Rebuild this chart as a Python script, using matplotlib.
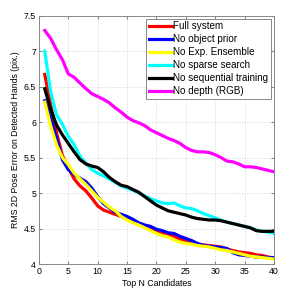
import numpy as np
import matplotlib
matplotlib.use("Agg")
import matplotlib.pyplot as plt

plt.rcParams['font.family'] = ['Liberation Sans', 'DejaVu Sans']

# Top N candidates 1..40
top_n = np.arange(1, 41)

full_system = [6.67, 6.25, 5.85, 5.53, 5.36, 5.20, 5.10, 5.03, 4.93, 4.82,
               4.76, 4.73, 4.70, 4.67, 4.64, 4.61, 4.57, 4.53, 4.49, 4.45,
               4.44, 4.42, 4.39, 4.35, 4.32, 4.30, 4.28, 4.27, 4.26, 4.25,
               4.24, 4.21, 4.19, 4.17, 4.16, 4.15, 4.13, 4.12, 4.10, 4.08]
no_object_prior = [6.30, 6.05, 5.78, 5.47, 5.33, 5.26, 5.21, 5.16, 5.07, 4.95,
                   4.85, 4.79, 4.73, 4.70, 4.67, 4.63, 4.58, 4.55, 4.53, 4.49,
                   4.47, 4.44, 4.43, 4.39, 4.36, 4.33, 4.29, 4.26, 4.25, 4.24,
                   4.23, 4.22, 4.16, 4.13, 4.12, 4.11, 4.10, 4.10, 4.09, 4.09]
no_exp_ensemble = [6.28, 5.95, 5.68, 5.50, 5.40, 5.28, 5.20, 5.12, 5.03, 4.94,
                   4.87, 4.80, 4.75, 4.67, 4.62, 4.58, 4.55, 4.51, 4.47, 4.43,
                   4.40, 4.38, 4.34, 4.31, 4.29, 4.28, 4.26, 4.25, 4.24, 4.22,
                   4.20, 4.19, 4.17, 4.15, 4.13, 4.11, 4.10, 4.09, 4.08, 4.07]
no_sparse_search = [7.00, 6.43, 6.10, 5.97, 5.80, 5.68, 5.52, 5.42, 5.33, 5.28,
                    5.24, 5.20, 5.15, 5.10, 5.07, 5.04, 5.00, 4.96, 4.92, 4.89,
                    4.86, 4.85, 4.86, 4.82, 4.79, 4.78, 4.75, 4.71, 4.68, 4.65,
                    4.62, 4.59, 4.57, 4.55, 4.53, 4.51, 4.48, 4.46, 4.45, 4.43]
no_seq_training = [6.47, 6.18, 5.96, 5.82, 5.70, 5.58, 5.47, 5.41, 5.38, 5.36,
                   5.30, 5.22, 5.16, 5.11, 5.09, 5.05, 5.01, 4.95, 4.89, 4.83,
                   4.79, 4.75, 4.73, 4.71, 4.69, 4.66, 4.64, 4.63, 4.62, 4.62,
                   4.61, 4.59, 4.57, 4.55, 4.53, 4.51, 4.47, 4.46, 4.46, 4.46]
no_depth = [7.29, 7.18, 7.02, 6.88, 6.68, 6.63, 6.55, 6.47, 6.40, 6.36,
            6.32, 6.27, 6.20, 6.14, 6.07, 6.02, 5.99, 5.95, 5.89, 5.85,
            5.81, 5.77, 5.74, 5.70, 5.64, 5.60, 5.58, 5.58, 5.57, 5.54,
            5.50, 5.45, 5.44, 5.41, 5.37, 5.37, 5.36, 5.34, 5.32, 5.30]

labels = ["Full system", "No object prior", "No Exp. Ensemble",
          "No sparse search", "No sequential training", "No depth (RGB)"]
colors = ["#ff0000", "#0000ff", "#ffff00", "#00ffff", "#000000", "#ff00ff"]
series = [full_system, no_object_prior, no_exp_ensemble,
          no_sparse_search, no_seq_training, no_depth]

fig = plt.figure(figsize=(2.99, 2.94), dpi=100)
ax = fig.add_axes([0.130, 0.102, 0.786, 0.845])

for vals, lab, col in zip(series, labels, colors):
    ax.plot(top_n, vals, color=col, linewidth=2.3, label=lab)

ax.set_xlim(0, 40)
ax.set_ylim(4, 7.5)
ax.set_xticks(np.arange(0, 41, 5))
ax.set_yticks(np.arange(4, 7.51, 0.5))
ax.set_yticklabels(["4", "4.5", "5", "5.5", "6", "6.5", "7", "7.5"])
ax.grid(True, linestyle=(0, (1, 2)), color="#c8c8c8", linewidth=0.6)
ax.tick_params(direction="in", labelsize=6.3, length=2, color="#888888",
               pad=2, top=True, right=True)
for s in ax.spines.values():
    s.set_color("#888888")
    s.set_linewidth(0.7)

ax.set_xlabel("Top N Candidates", fontsize=6.3, labelpad=2)
ax.set_ylabel("RMS 2D Pose Error on Detected Hands (pix.)", fontsize=6.3,
              labelpad=3)

leg = ax.legend(loc="upper right", fontsize=7.1, fancybox=False,
                framealpha=1, edgecolor="#888888", handlelength=2.3,
                handletextpad=0.1, borderpad=0.3, labelspacing=0.3,
                borderaxespad=0.3)
leg.get_frame().set_linewidth(0.7)
for ln in leg.get_lines():
    ln.set_linewidth(2.3)

fig.savefig("out.png", dpi=100)
